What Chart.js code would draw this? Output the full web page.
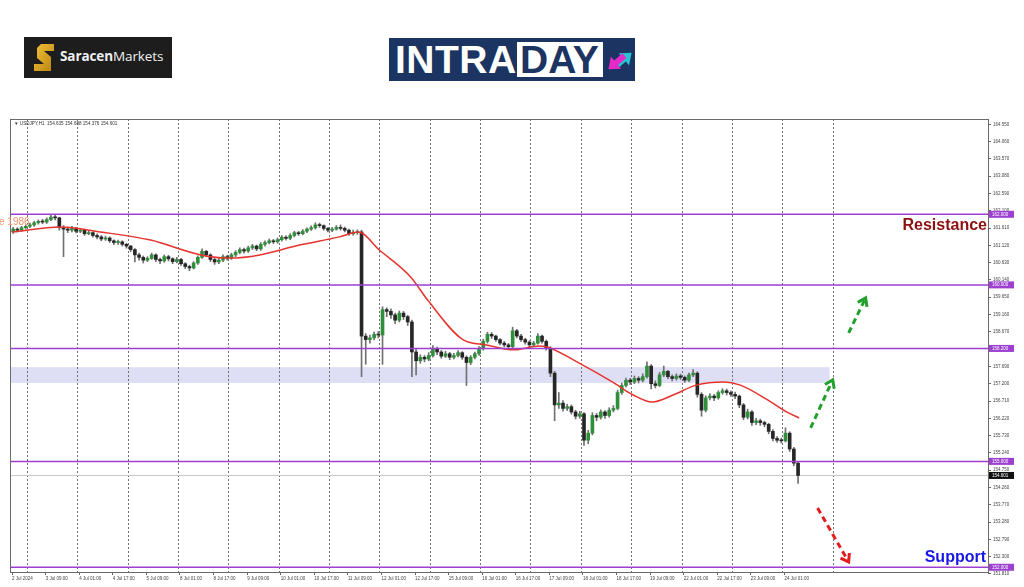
<!DOCTYPE html>
<html>
<head>
<meta charset="utf-8">
<title>USDJPY H1 Intraday</title>
<script src="https://cdn.jsdelivr.net/npm/chart.js@4.4.1/dist/chart.umd.min.js"></script>
<style>
  html, body { margin: 0; padding: 0; background: #fff; }
  #wrap { position: relative; width: 1024px; height: 587px; overflow: hidden; }
  #chart { position: absolute; left: 0; top: 0; }
  .saracen { position: absolute; left: 24px; top: 37px; width: 148px; height: 41px; background: #1d1d1d; }
  .saracen svg { position: absolute; left: 10px; top: 7px; }
  .saracen .name { position: absolute; left: 36px; top: 10px; font: 13.5px "Open Sans", sans-serif; color: #f0f0f0; line-height: 19px; letter-spacing: -0.1px; }
  .saracen .name b { font-weight: 700; }
  .intraday { position: absolute; left: 389px; top: 38px; width: 246px; height: 43px; background: #1b3461; }
  .intraday .intra { position: absolute; left: 6px; top: 1px; font: bold 39px "Liberation Sans", Arial, sans-serif; color: #fff; line-height: 42px; letter-spacing: 0.5px; }
  .intraday .day { position: absolute; left: 128px; top: 4px; width: 86px; height: 35px; background: #fff; overflow: hidden; }
  .intraday .day span { position: absolute; left: 3px; top: -3px; font: bold 39px "Liberation Sans", Arial, sans-serif; color: #1b3461; line-height: 42px; }
  .intraday svg { position: absolute; left: 218px; top: 3px; }
</style>
</head>
<body>
<div id="wrap">
  <canvas id="chart" width="1024" height="587"></canvas>
  <div class="saracen">
    <svg width="20" height="27" viewBox="0 0 20 27">
      <defs><linearGradient id="gold" x1="0" y1="0" x2="1" y2="1"><stop offset="0" stop-color="#f3c23a"/><stop offset="1" stop-color="#b9830f"/></linearGradient></defs>
      <path d="M7 0 H20 V7 H10 L17 13 V27 H0 V20 H10 L3 14 V4 Z" fill="url(#gold)"/>
    </svg>
    <div class="name"><b>Saracen</b>Markets</div>
  </div>
  <div class="intraday">
    <div class="intra">INTRA</div>
    <div class="day"><span>DAY</span></div>
    <svg width="26" height="38" viewBox="0 0 26 38">
      <g transform="translate(4 20) rotate(-40)"><polygon points="0,4 11,4 11,-1 21,7 11,15 11,10 0,10" fill="#27c3cf"/></g>
      <g transform="translate(22 20) rotate(140)"><polygon points="0,4 11,4 11,-1 21,7 11,15 11,10 0,10" fill="#e42bc9"/></g>
    </svg>
  </div>
</div>
<script>
// time axis: one unit = one H1 bar counted from 2 Jul 17:00
const xLabels = ['2 Jul 2024', '3 Jul 09:00', '4 Jul 01:00', '4 Jul 17:00', '5 Jul 09:00', '8 Jul 01:00',
  '8 Jul 17:00', '9 Jul 09:00', '10 Jul 01:00', '10 Jul 17:00', '11 Jul 09:00', '12 Jul 01:00',
  '12 Jul 17:00', '15 Jul 09:00', '16 Jul 01:00', '16 Jul 17:00', '17 Jul 09:00', '18 Jul 01:00',
  '18 Jul 17:00', '19 Jul 09:00', '22 Jul 01:00', '22 Jul 17:00', '23 Jul 09:00', '24 Jul 01:00'];
const xLabelBars = [0, 16, 32, 48, 64, 80, 96, 112, 128, 144, 160, 176, 192, 208, 224, 240, 256, 272, 288, 304, 320, 336, 352, 368];
const dayBars = [7, 31, 55, 79, 103, 127, 151, 175, 199, 223, 247, 271, 295, 319, 343, 367, 391];

const yTickValues = [151.810, 152.300, 152.790, 153.280, 153.770, 154.260, 154.750, 155.240, 155.730,
  156.220, 156.710, 157.200, 157.690, 158.180, 158.670, 159.160, 159.650, 160.140, 160.630,
  161.120, 161.610, 162.100, 162.590, 163.080, 163.570, 164.060, 164.550];

// 2-hour candles
const firstOpen = 161.50;
const closes = [
  161.58, 161.55, 161.62, 161.66, 161.70, 161.76, 161.80, 161.78, 161.85, 161.92,
  161.90, 161.62, 161.58, 161.55, 161.60, 161.52, 161.55, 161.45, 161.48, 161.40,
  161.36, 161.30, 161.33, 161.25, 161.20, 161.22, 161.15, 161.10, 161.00, 160.85,
  160.78, 160.70, 160.75, 160.85, 160.72, 160.68, 160.80, 160.74, 160.66, 160.72,
  160.60, 160.52, 160.48, 160.62, 160.78, 160.95, 160.85, 160.72, 160.65, 160.70,
  160.80, 160.76, 160.85, 160.92, 161.00, 160.96, 161.05, 161.10, 161.02, 161.15,
  161.20, 161.25, 161.22, 161.28, 161.35, 161.32, 161.40, 161.48, 161.45, 161.52,
  161.58, 161.62, 161.70, 161.68, 161.60, 161.55, 161.58, 161.63, 161.60, 161.55,
  161.45, 161.48, 161.50, 158.55, 158.45, 158.50, 158.60, 158.58, 159.30, 159.25,
  159.15, 159.00, 159.20, 159.10, 158.95, 158.10, 157.85, 157.95, 157.90, 158.00,
  158.20, 158.10, 157.98, 158.05, 157.95, 158.00, 158.08, 157.95, 157.80, 157.95,
  158.05, 158.20, 158.40, 158.60, 158.55, 158.45, 158.35, 158.30, 158.25, 158.70,
  158.55, 158.45, 158.38, 158.30, 158.35, 158.55, 158.40, 158.20, 157.50, 156.60,
  156.65, 156.50, 156.55, 156.40, 156.28, 156.35, 155.60, 155.80, 156.30, 156.25,
  156.40, 156.30, 156.45, 156.50, 156.95, 157.15, 157.30, 157.25, 157.35, 157.30,
  157.40, 157.70, 157.20, 157.15, 157.45, 157.55, 157.40, 157.35, 157.42, 157.38,
  157.30, 157.45, 157.50, 156.90, 156.45, 156.80, 156.85, 156.80, 156.95, 157.00,
  156.95, 156.90, 156.85, 156.60, 156.25, 156.40, 156.10, 156.15, 156.10, 156.05,
  155.85, 155.65, 155.60, 155.58, 155.80, 155.35, 154.95, 154.601];
const highs = [
  161.63, 161.62, 161.66, 161.70, 161.75, 161.80, 161.84, 161.86, 161.90, 161.98,
  161.97, 161.92, 161.68, 161.64, 161.66, 161.63, 161.60, 161.58, 161.54, 161.50,
  161.45, 161.40, 161.38, 161.36, 161.28, 161.27, 161.25, 161.18, 161.12, 161.03,
  160.90, 160.82, 160.80, 160.90, 160.88, 160.76, 160.85, 160.84, 160.77, 160.78,
  160.75, 160.63, 160.56, 160.66, 160.82, 161.02, 160.98, 160.88, 160.75, 160.76,
  160.85, 160.84, 160.90, 160.97, 161.05, 161.04, 161.10, 161.15, 161.13, 161.20,
  161.25, 161.30, 161.29, 161.33, 161.40, 161.39, 161.45, 161.52, 161.52, 161.57,
  161.62, 161.67, 161.76, 161.75, 161.70, 161.63, 161.63, 161.68, 161.70, 161.64,
  161.58, 161.55, 161.56, 161.55, 158.62, 158.58, 158.66, 158.68, 159.38, 159.35,
  159.32, 159.20, 159.26, 159.25, 159.14, 159.00, 158.20, 158.02, 158.00, 158.08,
  158.28, 158.24, 158.14, 158.12, 158.09, 158.06, 158.14, 158.11, 157.99, 158.00,
  158.10, 158.25, 158.46, 158.66, 158.65, 158.58, 158.48, 158.40, 158.34, 158.80,
  158.74, 158.60, 158.49, 158.42, 158.40, 158.62, 158.58, 158.44, 158.25, 157.55,
  156.95, 156.72, 156.62, 156.60, 156.45, 156.42, 156.38, 155.88, 156.38, 156.36,
  156.46, 156.44, 156.52, 156.58, 157.02, 157.22, 157.36, 157.35, 157.42, 157.40,
  157.48, 157.82, 157.74, 157.28, 157.52, 157.70, 157.58, 157.45, 157.48, 157.47,
  157.42, 157.50, 157.60, 157.54, 156.95, 156.86, 156.92, 156.90, 157.00, 157.06,
  157.05, 157.00, 156.96, 156.88, 156.64, 156.48, 156.44, 156.22, 156.20, 156.14,
  156.08, 155.90, 155.70, 155.66, 155.95, 155.84, 155.40, 154.99];
const lows = [
  161.46, 161.50, 161.52, 161.58, 161.62, 161.66, 161.72, 161.73, 161.74, 161.82,
  161.84, 161.55, 160.80, 161.48, 161.50, 161.47, 161.48, 161.40, 161.42, 161.35,
  161.30, 161.25, 161.26, 161.20, 161.14, 161.15, 161.10, 161.04, 160.94, 160.65,
  160.70, 160.62, 160.66, 160.72, 160.66, 160.60, 160.64, 160.68, 160.60, 160.62,
  160.55, 160.46, 160.40, 160.45, 160.58, 160.75, 160.80, 160.66, 160.58, 160.60,
  160.66, 160.70, 160.72, 160.80, 160.88, 160.90, 160.92, 161.00, 160.97, 160.98,
  161.10, 161.16, 161.17, 161.18, 161.24, 161.27, 161.28, 161.36, 161.40, 161.42,
  161.48, 161.54, 161.58, 161.63, 161.55, 161.50, 161.51, 161.55, 161.55, 161.50,
  161.40, 161.41, 161.43, 157.40, 157.75, 158.35, 158.44, 158.50, 157.75, 159.10,
  159.05, 158.90, 158.95, 159.02, 158.85, 157.40, 157.45, 157.78, 157.82, 157.85,
  157.95, 158.02, 157.92, 157.94, 157.88, 157.90, 157.96, 157.89, 157.15, 157.74,
  157.90, 158.00, 158.15, 158.35, 158.48, 158.40, 158.30, 158.24, 158.20, 158.22,
  158.50, 158.40, 158.32, 158.25, 158.26, 158.32, 158.35, 158.15, 157.40, 156.15,
  156.50, 156.42, 156.44, 156.34, 156.20, 156.22, 155.45, 155.50, 155.75, 156.15,
  156.20, 156.22, 156.25, 156.40, 156.46, 156.90, 157.10, 157.18, 157.20, 157.22,
  157.25, 157.36, 157.05, 157.08, 157.12, 157.40, 157.34, 157.28, 157.30, 157.32,
  157.24, 157.26, 157.40, 156.82, 156.28, 156.40, 156.74, 156.72, 156.76, 156.90,
  156.88, 156.84, 156.78, 156.52, 156.18, 156.20, 156.02, 156.04, 156.02, 155.98,
  155.78, 155.58, 155.54, 155.52, 155.55, 155.28, 154.88, 154.376];

// moving average (red line)
const maBars = [0, 23, 42, 66, 90, 104, 118, 137, 156, 165, 175, 190, 198, 215, 226, 239,
  251, 255, 270, 286, 296, 305, 315, 326, 339, 347, 360, 369, 375];
const maValues = [161.50, 161.64, 161.50, 161.27, 160.85, 160.76, 160.85, 161.13, 161.36, 161.50,
  160.99, 160.22, 159.57, 158.44, 158.30, 158.16, 158.27, 158.24, 157.79, 157.25, 156.88,
  156.68, 156.88, 157.16, 157.25, 157.16, 156.74, 156.40, 156.23];

const levelPrices = [162.000, 160.000, 158.200, 155.000, 152.000];
const lastPrice = 154.601;
const zoneTop = 157.67, zoneBottom = 157.22, zoneEndBar = 389.5;
const headerText = '\u25BC USDJPY,H1  154.635 154.688 154.376 154.601';
const upArrows = [[[380.5, 155.95], [391, 157.31]], [[398.6, 158.64], [406.7, 159.63]]];
const downArrow = [[383.8, 153.68], [398.6, 152.15]];

const opens = closes.map((c, i) => i === 0 ? firstOpen : closes[i - 1]);
const bodies = closes.map((c, i) => ({ x: 2 * i + 0.5, y: [opens[i], c] }));
const wicks = closes.map((c, i) => ({ x: 2 * i + 0.5, y: [lows[i], highs[i]] }));
const bodyColors = closes.map((c, i) => c >= opens[i] ? '#2f8f3a' : '#262626');

function drawArrow(ctx, x, y, from, to, color) {
  const p0 = { x: x.getPixelForValue(from[0]), y: y.getPixelForValue(from[1]) };
  const p1 = { x: x.getPixelForValue(to[0]), y: y.getPixelForValue(to[1]) };
  const ang = Math.atan2(p1.y - p0.y, p1.x - p0.x);
  ctx.strokeStyle = color;
  ctx.lineWidth = 3;
  ctx.setLineDash([6, 4]);
  ctx.beginPath();
  ctx.moveTo(p0.x, p0.y);
  ctx.lineTo(p1.x - 3 * Math.cos(ang), p1.y - 3 * Math.sin(ang));
  ctx.stroke();
  ctx.setLineDash([]);
  const hl = 9;
  ctx.beginPath();
  ctx.moveTo(p1.x - hl * Math.cos(ang - 0.6), p1.y - hl * Math.sin(ang - 0.6));
  ctx.lineTo(p1.x, p1.y);
  ctx.lineTo(p1.x - hl * Math.cos(ang + 0.6), p1.y - hl * Math.sin(ang + 0.6));
  ctx.stroke();
}

function priceBox(ctx, a, py, text, bg) {
  ctx.fillStyle = bg;
  ctx.fillRect(a.right + 1, py - 3.5, 25, 7);
  ctx.fillStyle = '#fff';
  ctx.font = '4.5px "Liberation Sans"';
  ctx.textAlign = 'left';
  ctx.textBaseline = 'middle';
  ctx.fillText(text, a.right + 4, py + 0.3);
}

const overlay = {
  id: 'overlay',
  beforeDatasetsDraw(chart) {
    const { ctx, chartArea: a, scales: { x, y } } = chart;
    ctx.save();
    // supply zone
    const zt = y.getPixelForValue(zoneTop), zb = y.getPixelForValue(zoneBottom);
    ctx.fillStyle = '#dedff5';
    ctx.fillRect(a.left, zt, x.getPixelForValue(zoneEndBar) - a.left, zb - zt);
    // daily separators
    ctx.strokeStyle = '#707070';
    ctx.lineWidth = 1;
    ctx.setLineDash([2, 2]);
    dayBars.forEach(b => {
      const px = Math.round(x.getPixelForValue(b)) + 0.5;
      ctx.beginPath();
      ctx.moveTo(px, a.top);
      ctx.lineTo(px, a.bottom);
      ctx.stroke();
    });
    ctx.setLineDash([]);
    // bid line
    const lp = Math.round(y.getPixelForValue(lastPrice)) + 0.5;
    ctx.strokeStyle = '#c8c8c8';
    ctx.beginPath();
    ctx.moveTo(a.left, lp);
    ctx.lineTo(a.right, lp);
    ctx.stroke();
    ctx.restore();
  },
  afterDatasetsDraw(chart) {
    const { ctx, chartArea: a, scales: { x, y } } = chart;
    ctx.save();
    // horizontal levels
    ctx.strokeStyle = '#9d3fd0';
    ctx.lineWidth = 1.5;
    levelPrices.forEach(p => {
      const py = y.getPixelForValue(p);
      ctx.beginPath();
      ctx.moveTo(a.left, py);
      ctx.lineTo(a.right, py);
      ctx.stroke();
    });
    // frame
    ctx.strokeStyle = '#6a6a6a';
    ctx.lineWidth = 1;
    ctx.strokeRect(a.left + 0.5, a.top + 0.5, a.right - a.left, a.bottom - a.top);
    // header
    ctx.fillStyle = '#333';
    ctx.font = '4.6px "Liberation Sans"';
    ctx.textAlign = 'left';
    ctx.textBaseline = 'middle';
    ctx.fillText(headerText, a.left + 4, a.top + 4.5);
    // cut label on the left
    ctx.fillStyle = '#f2946c';
    ctx.font = '10px "Liberation Sans"';
    ctx.fillText('e 1986', -1, y.getPixelForValue(161.78));
    // arrows
    upArrows.forEach(ar => drawArrow(ctx, x, y, ar[0], ar[1], '#23a02c'));
    drawArrow(ctx, x, y, downArrow[0], downArrow[1], '#e11d1d');
    // captions
    ctx.textAlign = 'right';
    ctx.textBaseline = 'alphabetic';
    ctx.font = 'bold 16px "Liberation Sans"';
    ctx.fillStyle = '#8c1010';
    ctx.fillText('Resistance', a.right - 1, y.getPixelForValue(161.55));
    ctx.fillStyle = '#1818e6';
    ctx.fillText('Support', a.right - 2, y.getPixelForValue(152.14));
    // price boxes on the axis
    levelPrices.forEach(p => priceBox(ctx, a, y.getPixelForValue(p), p.toFixed(3), '#9d3fd0'));
    priceBox(ctx, a, y.getPixelForValue(lastPrice), lastPrice.toFixed(3), '#111');
    ctx.restore();
  }
};

new Chart(document.getElementById('chart'), {
  type: 'bar',
  data: {
    datasets: [
      {
        type: 'line', label: 'MA', data: maBars.map((b, i) => ({ x: b, y: maValues[i] })),
        borderColor: '#e6332e', borderWidth: 1.5, pointRadius: 0, cubicInterpolationMode: 'monotone', order: 0
      },
      { label: 'Body', data: bodies, backgroundColor: bodyColors, barThickness: 3, minBarLength: 1, grouped: false, order: 1 },
      { label: 'Wick', data: wicks, backgroundColor: '#707070', barThickness: 1, grouped: false, order: 2 }
    ]
  },
  options: {
    responsive: false,
    animation: false,
    devicePixelRatio: 1,
    layout: { padding: { left: 10, top: 119, right: 0, bottom: 0 } },
    plugins: { legend: { display: false }, tooltip: { enabled: false } },
    scales: {
      x: {
        type: 'linear', min: -1, max: 465, offset: false, bounds: 'data',
        grid: { display: true, drawOnChartArea: false, drawTicks: true, tickLength: 3, color: '#666', offset: false },
        border: { display: false },
        ticks: {
          autoSkip: false, maxRotation: 0, minRotation: 0, align: 'start', padding: 1, color: '#444',
          font: { family: 'Liberation Sans', size: 4.5 },
          callback: (v, i) => xLabels[i]
        },
        afterBuildTicks: s => { s.ticks = xLabelBars.map(v => ({ value: v })); },
        afterFit: s => { s.height = 15; }
      },
      y: {
        type: 'linear', position: 'right', min: 151.866, max: 164.70, beginAtZero: false, bounds: 'data',
        grid: { drawOnChartArea: false, tickLength: 3, color: '#666' },
        border: { display: false },
        ticks: {
          autoSkip: false, padding: 2, color: '#444',
          font: { family: 'Liberation Sans', size: 4.5 },
          callback: v => v.toFixed(3)
        },
        afterBuildTicks: s => { s.ticks = yTickValues.map(v => ({ value: v })); },
        afterFit: s => { s.width = 36; }
      }
    }
  },
  plugins: [overlay]
});
</script>
</body>
</html>
